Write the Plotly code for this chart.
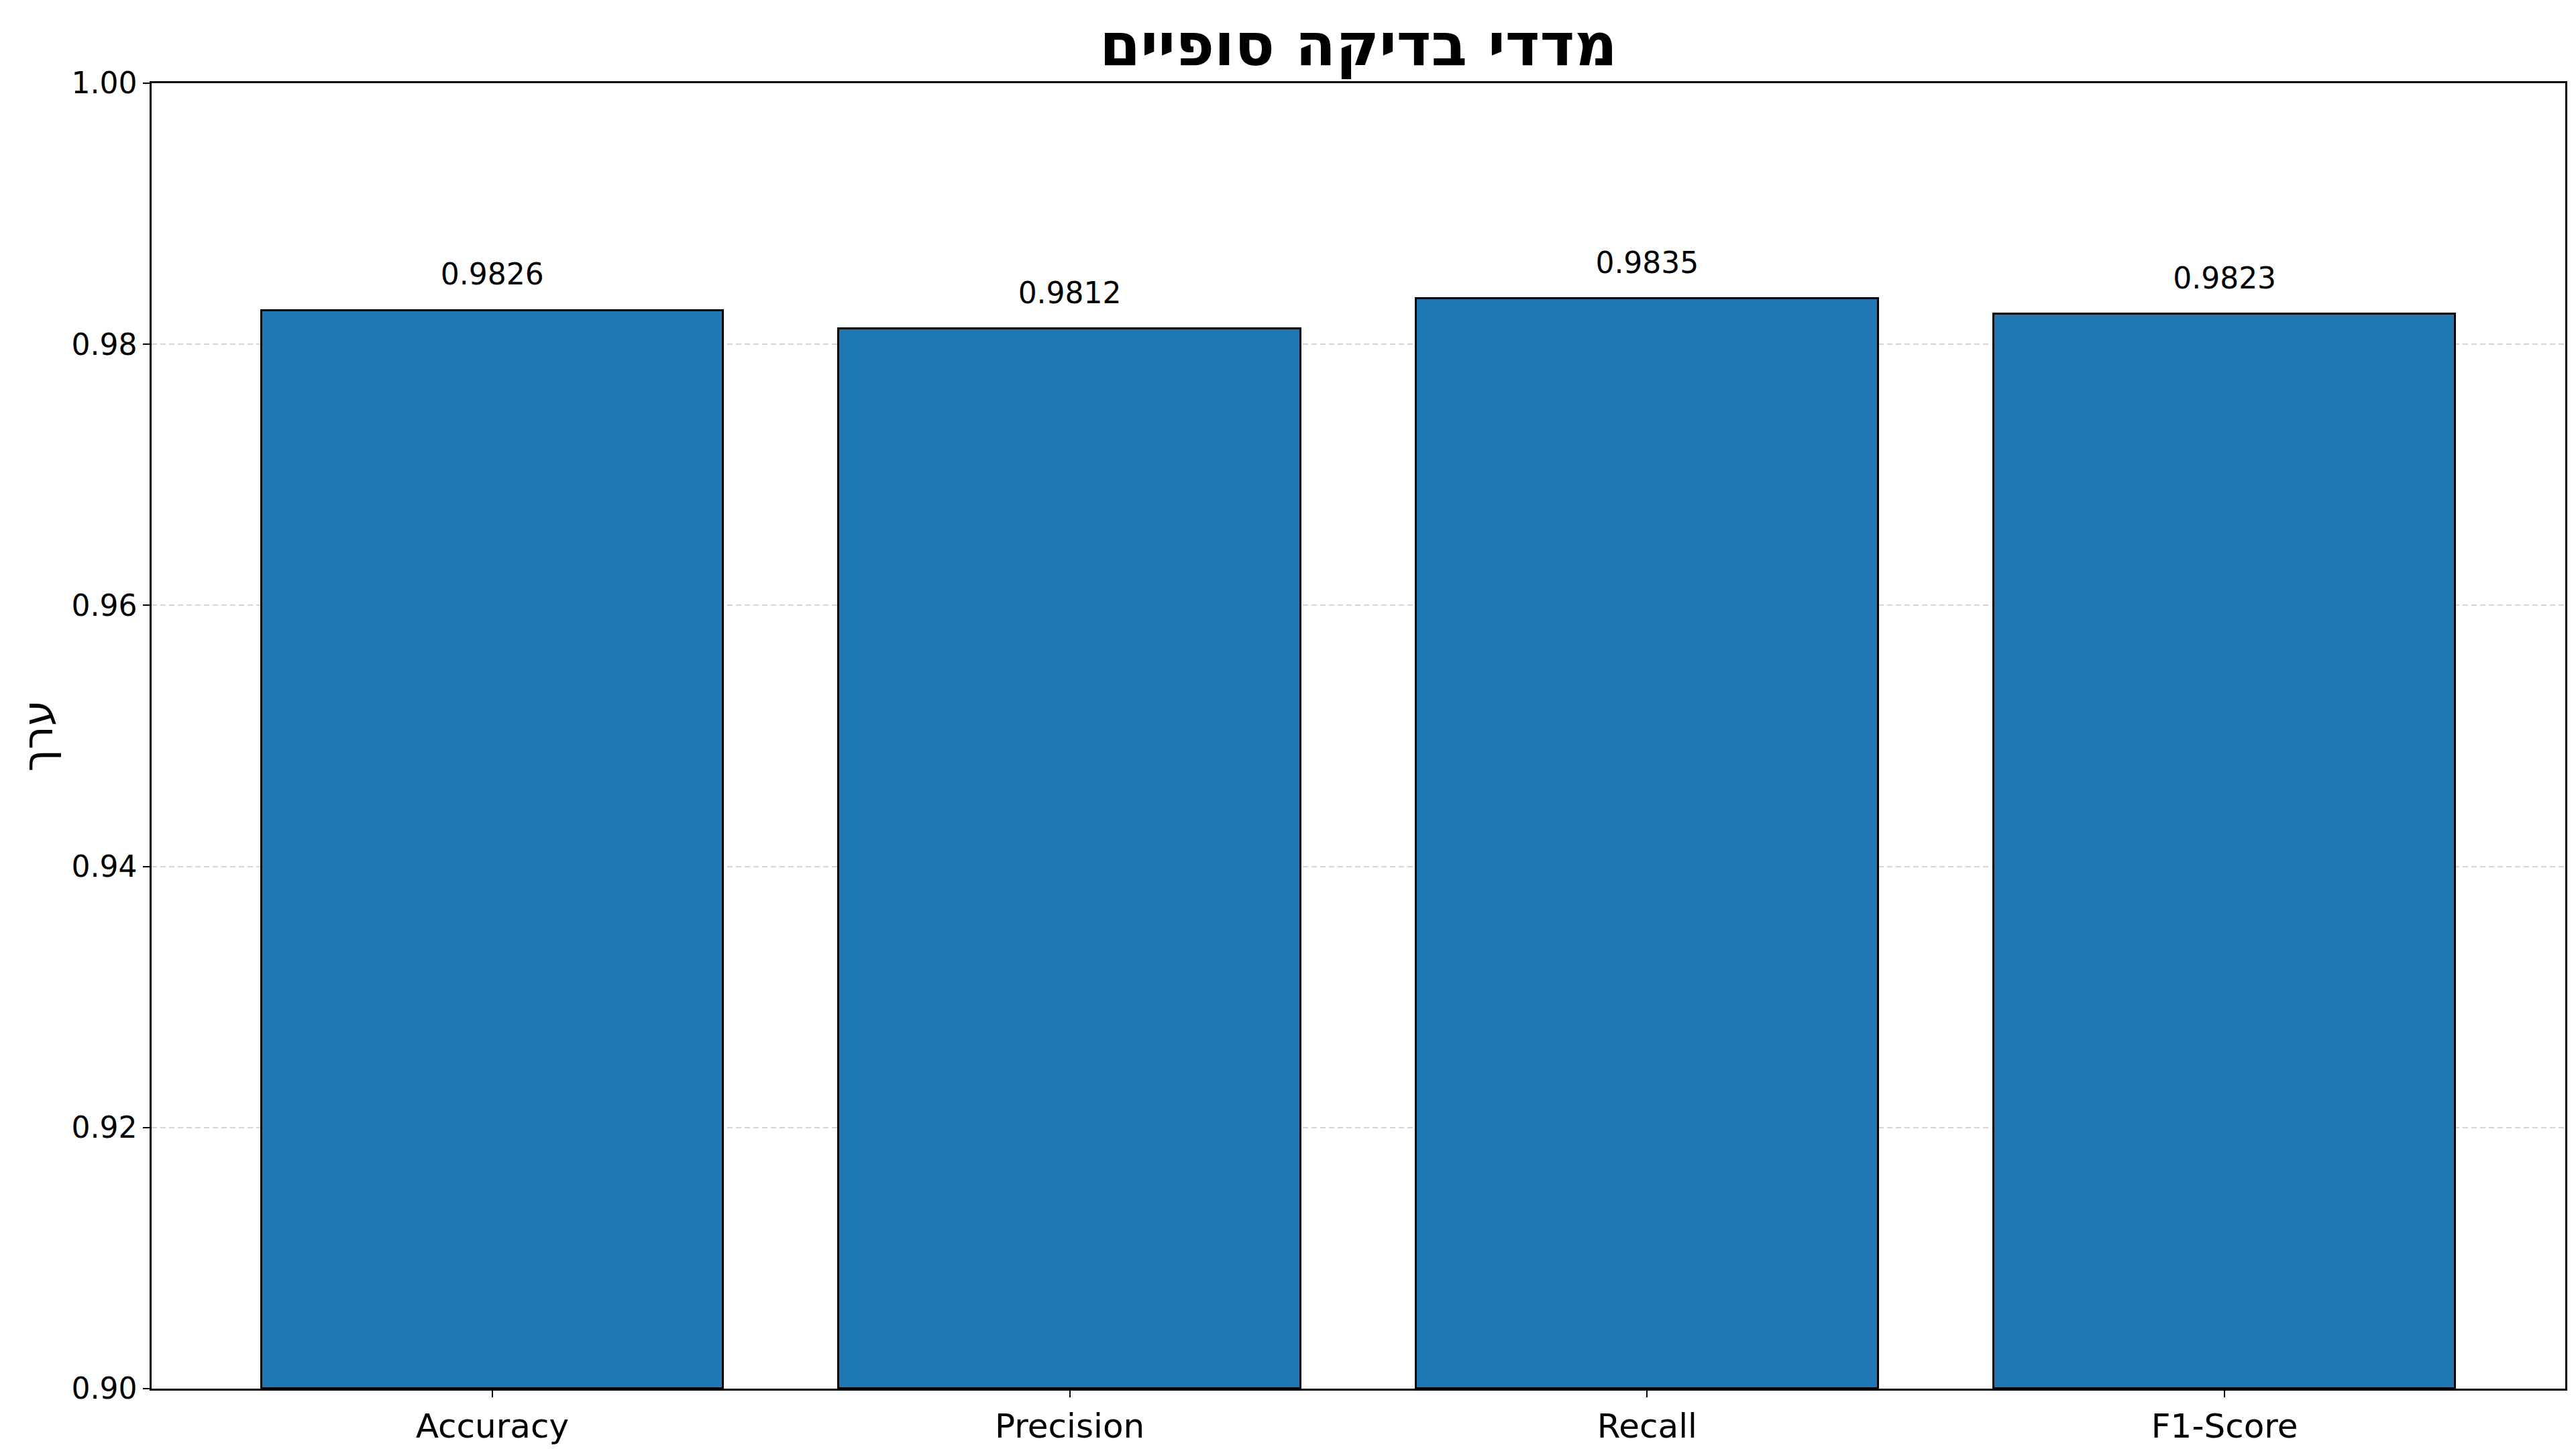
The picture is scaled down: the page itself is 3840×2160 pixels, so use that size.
import plotly.graph_objects as go

categories = ["Accuracy", "Precision", "Recall", "F1-Score"]
values = [0.9826, 0.9812, 0.9835, 0.9823]
value_labels = ["0.9826", "0.9812", "0.9835", "0.9823"]
y_ticks = [0.90, 0.92, 0.94, 0.96, 0.98, 1.00]
y_tick_labels = ["0.90", "0.92", "0.94", "0.96", "0.98", "1.00"]
title_text = "מדדי בדיקה סופיים"
y_title = "ערך"

FONT = "DejaVu Sans"
x_idx = list(range(len(categories)))

fig = go.Figure()
fig.add_trace(go.Bar(
    x=x_idx, y=[v - 0.90 for v in values], base=0.90, width=0.8,
    marker=dict(color="#1f77b4", line=dict(color="black", width=3)),
    showlegend=False, hoverinfo="skip",
))
fig.add_trace(go.Scatter(
    x=x_idx, y=[v + 0.0014 for v in values], mode="text",
    text=value_labels, textposition="top center",
    textfont=dict(family=FONT, size=44, color="black"),
    showlegend=False, hoverinfo="skip", cliponaxis=False,
))

fig.update_layout(
    width=3840, height=2160,
    margin=dict(l=218, r=24, t=116, b=98),
    paper_bgcolor="white", plot_bgcolor="white",
    bargap=0,
    title=dict(text=f"<b>{title_text}</b>", x=(218 + 3816) / 2 / 3840, xanchor="center",
               y=1 - 58 / 2160, yref="container", yanchor="middle",
               font=dict(family=FONT, size=88, color="black")),
    font=dict(family=FONT, color="black"),
)
fig.update_xaxes(
    range=[-0.59, 3.59], tickmode="array", tickvals=x_idx, ticktext=categories,
    tickfont=dict(family=FONT, size=50, color="black"),
    showline=True, linecolor="black", linewidth=2.5, mirror=True,
    ticks="outside", ticklen=10, tickwidth=2, tickcolor="black",
    showgrid=False, zeroline=False,
)
fig.update_yaxes(
    range=[0.90, 1.00], tickmode="array", tickvals=y_ticks, ticktext=y_tick_labels,
    tickfont=dict(family=FONT, size=44, color="black"),
    showline=True, linecolor="black", linewidth=2.5, mirror=True,
    ticks="outside", ticklen=10, tickwidth=2, tickcolor="black",
    showgrid=True, gridcolor="#d6d6d6", gridwidth=2, griddash="8px,5px",
    zeroline=False,
    title=dict(text=y_title, font=dict(family=FONT, size=62, color="black"), standoff=8),
)

fig.write_html("out.html")
